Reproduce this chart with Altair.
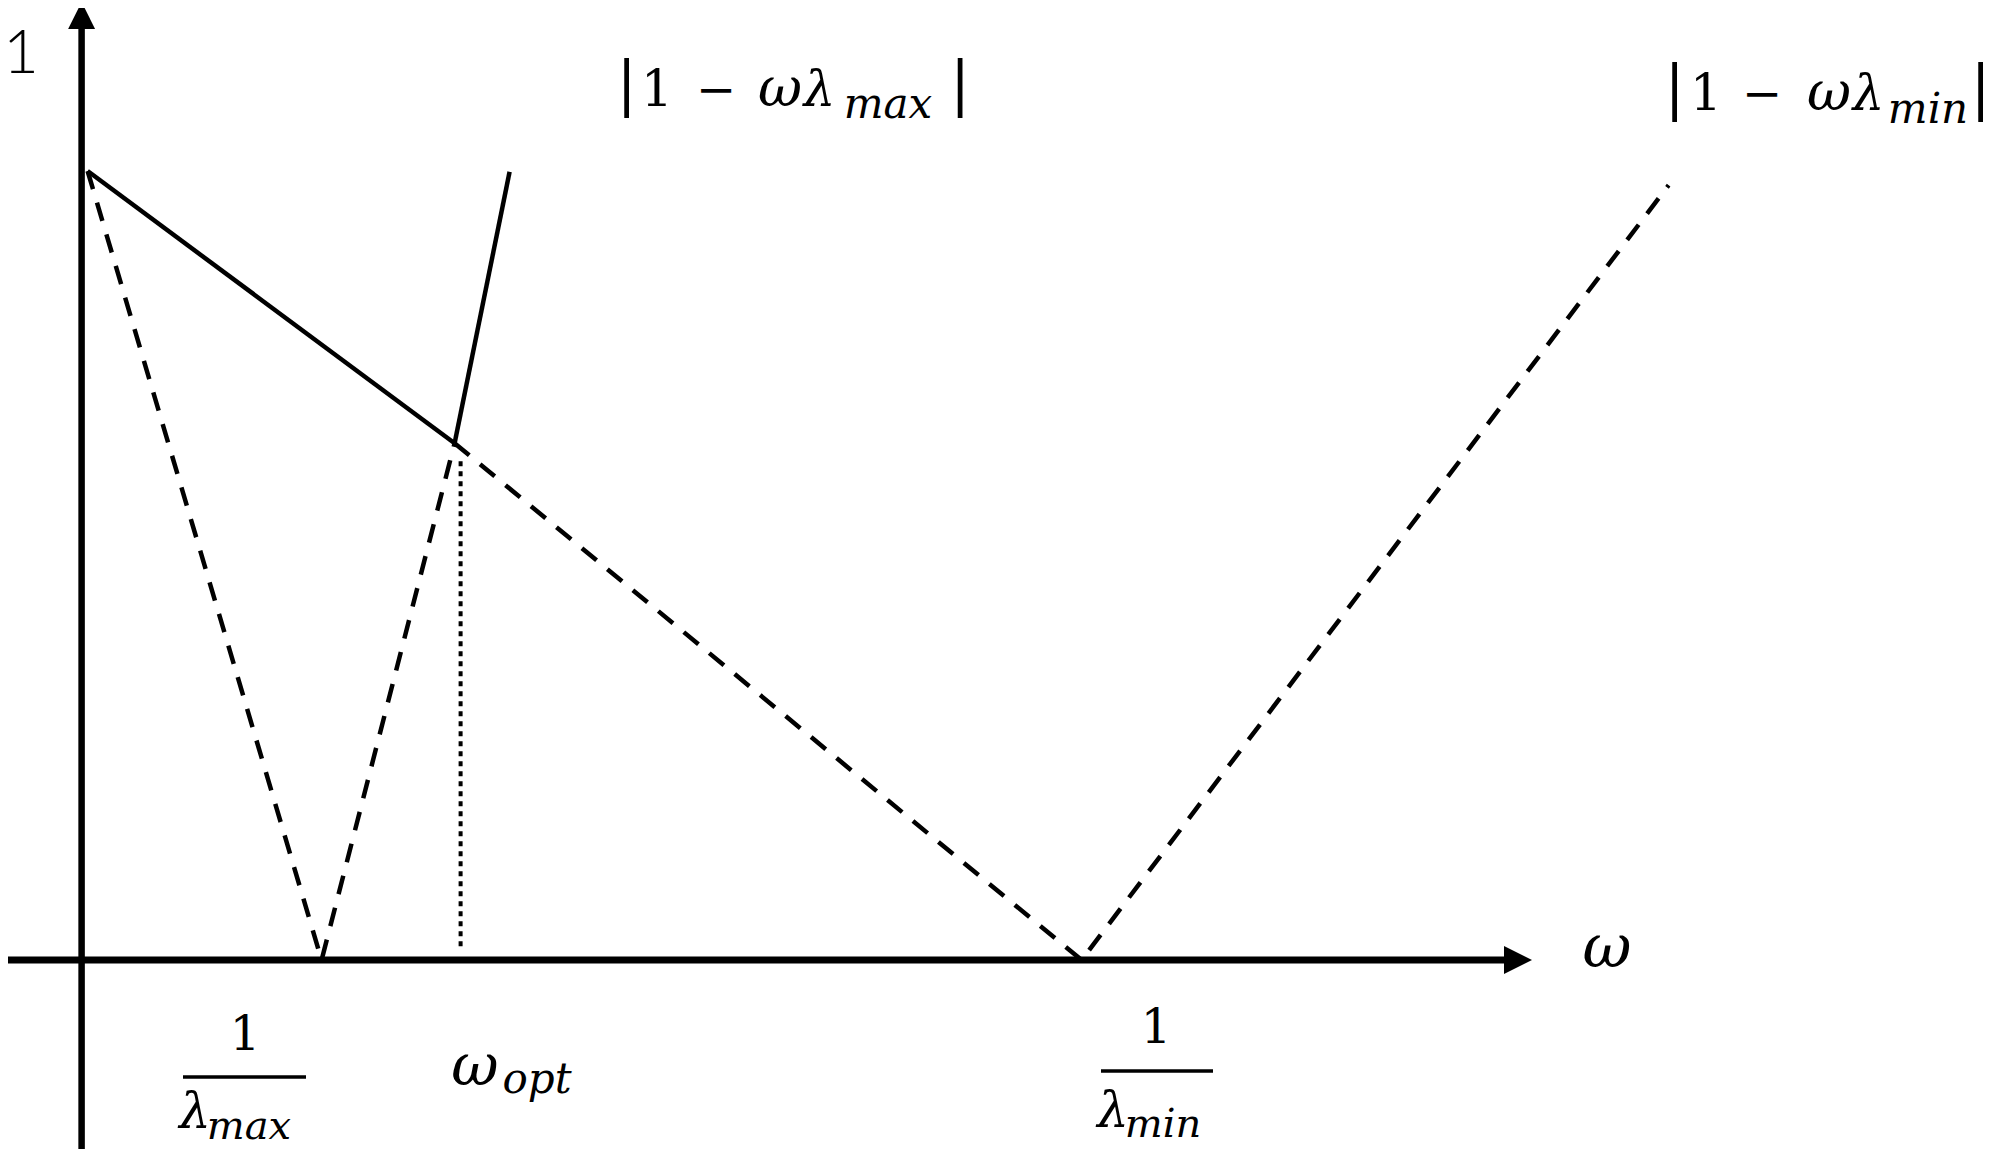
import altair as alt
import pandas as pd

# ---- data (ω on x, |1 - ωλ| on y) ----
# |1 - ω λmax| : start, zero at 1/λmax, ω_opt crossing, end of solid part
omega_max = [0.006, 0.240, 0.373, 0.428]
value_max = [1.0, 0.0, 0.655, 0.999]
# |1 - ω λmin| : start, ω_opt crossing, zero at 1/λmin, end of dashed part
omega_min = [0.006, 0.373, 1.000, 1.587]
value_min = [1.0, 0.655, 0.0, 0.982]
# ω_opt marker
omega_opt = 0.379
opt_top = 0.632
opt_bottom = 0.012

# ---- layout of the canvas (data units) ----
W, H = 1984, 1141
X_DOM = [-0.0736, 1.9104]
Y_DOM = [-0.2395, 1.2066]
SERIF = "DejaVu Serif"

xs = alt.Scale(domain=X_DOM, nice=False, zero=False)
ys = alt.Scale(domain=Y_DOM, nice=False, zero=False)


def X(f="w"):
    return alt.X(f"{f}:Q", scale=xs, axis=None)


def Y(f="v"):
    return alt.Y(f"{f}:Q", scale=ys, axis=None)


# line segments
rows = []
def seg(name, style, ws, vs):
    for i, (w, v) in enumerate(zip(ws, vs)):
        rows.append({"seg": name, "style": style, "i": i, "w": w, "v": v})

seg("max_solid", "solid", omega_max[2:4], value_max[2:4])
seg("min_solid", "solid", omega_min[0:2], value_min[0:2])
seg("max_dash", "dash", omega_max[0:3], value_max[0:3])
seg("min_dash", "dash", omega_min[1:4], value_min[1:4])
lines = pd.DataFrame(rows)

solid = alt.Chart(lines).transform_filter(alt.datum.style == "solid").mark_line(
    color="black", strokeWidth=4.5, strokeCap="butt"
).encode(x=X(), y=Y(), detail="seg:N", order="i:Q")

dashed = alt.Chart(lines).transform_filter(alt.datum.style == "dash").mark_line(
    color="black", strokeWidth=4.5, strokeDash=[19, 14], strokeCap="butt"
).encode(x=X(), y=Y(), detail="seg:N", order="i:Q")

dotted = alt.Chart(pd.DataFrame({"w": [omega_opt], "v": [opt_top], "v2": [opt_bottom]})).mark_rule(
    color="black", strokeWidth=4, strokeDash=[5, 5]
).encode(x=X(), y=Y(), y2="v2:Q")

# axes drawn as arrows
axes_df = pd.DataFrame({
    "w": [X_DOM[0], 0.0],
    "w2": [1.4224, 0.0],
    "v": [0.0, Y_DOM[0]],
    "v2": [0.0, 1.18],
    "sw": [7, 6.5],
})
axes = alt.Chart(axes_df).mark_rule(color="black", strokeCap="butt").encode(
    x=X(), x2="w2:Q", y=Y(), y2="v2:Q", strokeWidth=alt.StrokeWidth("sw:Q", scale=None, legend=None)
)
arrow_up = alt.Chart(pd.DataFrame({"w": [0.0], "v": [1.1971]})).mark_point(
    shape="M0,-1L1,1L-1,1Z", filled=True, size=729, color="black", opacity=1, strokeWidth=0
).encode(x=X(), y=Y())
arrow_right = alt.Chart(pd.DataFrame({"w": [1.4364], "v": [0.0]})).mark_point(
    shape="M1,0L-1,-1L-1,1Z", filled=True, size=784, color="black", opacity=1, strokeWidth=0
).encode(x=X(), y=Y())

# fraction bars
bars = alt.Chart(pd.DataFrame({
    "w": [0.1014, 1.0194], "w2": [0.2244, 1.1314], "v": [-0.1483, -0.1407]
})).mark_rule(color="black", strokeWidth=3.5, strokeCap="butt").encode(
    x=X(), x2="w2:Q", y=Y()
)

# text pieces
upright = pd.DataFrame([
    {"t": "|", "w": 0.5449, "v": 1.0850, "fs": 60},
    {"t": "1", "w": 0.5754, "v": 1.0824, "fs": 50},
    {"t": "\u2212", "w": 0.6344, "v": 1.0824, "fs": 48},
    {"t": "|", "w": 0.8784, "v": 1.0850, "fs": 60},
    {"t": "|", "w": 1.5929, "v": 1.0800, "fs": 60},
    {"t": "1", "w": 1.6244, "v": 1.0773, "fs": 50},
    {"t": "\u2212", "w": 1.6804, "v": 1.0773, "fs": 48},
    {"t": "|", "w": 1.8990, "v": 1.0800, "fs": 60},
    {"t": "1", "w": 0.1634, "v": -0.1141, "fs": 48},
    {"t": "1", "w": 1.0744, "v": -0.1052, "fs": 48},
])
italic = pd.DataFrame([
    {"t": "ω", "w": 0.6984, "v": 1.0824, "fs": 54},
    {"t": "λ", "w": 0.7380, "v": 1.0824, "fs": 50},
    {"t": "max", "w": 0.8064, "v": 1.0672, "fs": 42},
    {"t": "ω", "w": 1.7474, "v": 1.0773, "fs": 54},
    {"t": "λ", "w": 1.7870, "v": 1.0773, "fs": 50},
    {"t": "min", "w": 1.8464, "v": 1.0608, "fs": 42},
    {"t": "λ", "w": 0.1134, "v": -0.2130, "fs": 50},
    {"t": "max", "w": 0.1674, "v": -0.2270, "fs": 40},
    {"t": "ω", "w": 0.3934, "v": -0.1584, "fs": 58},
    {"t": "opt", "w": 0.4554, "v": -0.1686, "fs": 42},
    {"t": "λ", "w": 1.0314, "v": -0.2117, "fs": 50},
    {"t": "min", "w": 1.0814, "v": -0.2243, "fs": 40},
    {"t": "ω", "w": 1.5254, "v": -0.0089, "fs": 60},
])
sans = pd.DataFrame([{"t": "1", "w": -0.0606, "v": 1.1240, "fs": 62}])

def text_layer(df, **kw):
    return alt.Chart(df).mark_text(
        align="center", baseline="alphabetic", color="black", **kw
    ).encode(x=X(), y=Y(), text="t:N", size=alt.Size("fs:Q", scale=None, legend=None))

t_up = text_layer(upright, font=SERIF)
t_it = text_layer(italic, font=SERIF, fontStyle="italic")
t_sans = text_layer(sans, font="Lato", fontWeight=300)

chart = alt.layer(
    dashed, dotted, solid, axes, arrow_up, arrow_right, bars, t_up, t_it, t_sans
).properties(
    width=W, height=H, padding=0, autosize=alt.AutoSizeParams(type="none"),
    background="white"
).configure_view(stroke=None)

chart.save("out.html", embed_options={"renderer": "svg", "actions": False})
